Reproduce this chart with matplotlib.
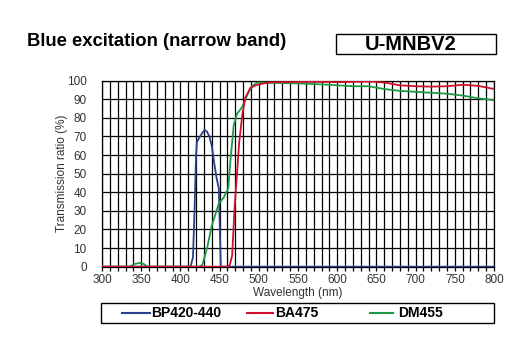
import numpy as np
import matplotlib.pyplot as plt
from matplotlib.lines import Line2D
from matplotlib.patches import Rectangle

# ---- data ----
bp_nm = [300, 413, 416, 418, 420, 421, 425, 428, 431, 434, 437, 440, 443, 446, 449, 450, 451.5, 800]
bp_t = [0, 0, 5, 30, 60, 67, 70, 72, 73.5, 72.5, 70, 65, 56, 48, 42, 25, 0, 0]

ba_nm = [300, 460, 463, 466, 469, 472, 475, 479, 483, 489, 495, 500, 513, 530,
         550, 570, 600, 620, 640, 660, 680, 700, 720, 740, 760, 780, 800]
ba_t = [0, 0, 1, 6, 31, 49, 67, 82, 91, 96, 97.3, 98, 99, 99.2,
        99.3, 99.4, 99.2, 99.4, 99.6, 99, 97.5, 97, 96.8, 97, 97.8, 97.2, 95.5]

dm_nm = [300, 335, 342, 348, 353, 358, 424, 428, 434, 440, 449, 455, 461, 464, 468, 472,
         479, 485, 491, 498, 520, 550, 580, 600, 620, 640, 660, 680, 700, 720,
         740, 760, 780, 800]
dm_t = [0, 0, 1.5, 2, 1.5, 0, 0, 1, 10, 22, 34, 37, 42, 58, 76, 82,
        86, 92, 97, 99, 98.8, 98.5, 98, 97.5, 97, 97, 95.5, 94.5, 94, 93.5,
        93, 92, 90.5, 89.5]

labels = ['BP420-440', 'BA475', 'DM455']
C_BP = '#2B3F8C'; C_BA = '#D0102E'; C_DM = '#1E9A45'

plt.rcParams['font.family'] = ['Liberation Sans', 'DejaVu Sans']

fig = plt.figure(figsize=(5.21, 3.51), dpi=100)
ax = fig.add_axes([0.1958, 0.2402, 0.7524, 0.530])

ax.plot(bp_nm, bp_t, color=C_BP, lw=1.3, zorder=3)
ax.plot(dm_nm, dm_t, color=C_DM, lw=1.3, zorder=4)
ax.plot(ba_nm, ba_t, color=C_BA, lw=1.3, zorder=5)

ax.set_xlim(300, 800); ax.set_ylim(0, 100)
ax.set_xticks(np.arange(300, 801, 50))
ax.set_xticks(np.arange(300, 801, 10), minor=True)
ax.set_yticks(np.arange(0, 101, 10))
ax.grid(True, which='both', color='black', lw=0.9)
ax.tick_params(axis='x', which='both', direction='out', length=3, width=0.9,
               labelsize=8.5, pad=2, colors='black', labelcolor='#333333')
ax.tick_params(axis='y', length=0, labelsize=8.5, pad=11, labelcolor='#333333')
for s in ax.spines.values():
    s.set_linewidth(0.9)
ax.set_axisbelow(True)
ax.set_xlabel('Wavelength (nm)', fontsize=8.5, labelpad=1, color='#333333')
ax.set_ylabel('Transmission ratio (%)', fontsize=8.5, color='#333333')
ax.yaxis.set_label_coords(-0.087, 0.5)

# titles
fig.text(27 / 521, 1 - 42 / 351, 'Blue excitation (narrow band)', fontsize=13.3,
         fontweight='bold', va='center', ha='left')
fig.patches.append(Rectangle((336 / 521, 1 - 54 / 351), 160 / 521, 20 / 351,
                             transform=fig.transFigure, fill=False, lw=1.0, ec='black'))
fig.text(411 / 521, 1 - 44 / 351, 'U-MNBV2', fontsize=14.5, fontweight='bold',
         va='center', ha='center')

# legend box
fig.patches.append(Rectangle((101 / 521, 1 - 323 / 351), 393 / 521, 20 / 351,
                             transform=fig.transFigure, fill=False, lw=1.0, ec='black'))
y_leg = 1 - 313 / 351
for (x0, x1, xt), lab, c in zip([(122, 150, 151), (247, 273, 275), (370, 393, 398)],
                                labels, [C_BP, C_BA, C_DM]):
    fig.lines.append(Line2D([x0 / 521, x1 / 521], [y_leg, y_leg], transform=fig.transFigure,
                            color=c, lw=1.5))
    fig.text(xt / 521, y_leg, lab, fontsize=10, fontweight='bold', va='center', ha='left')

fig.savefig('out.png', dpi=100, facecolor='white')
